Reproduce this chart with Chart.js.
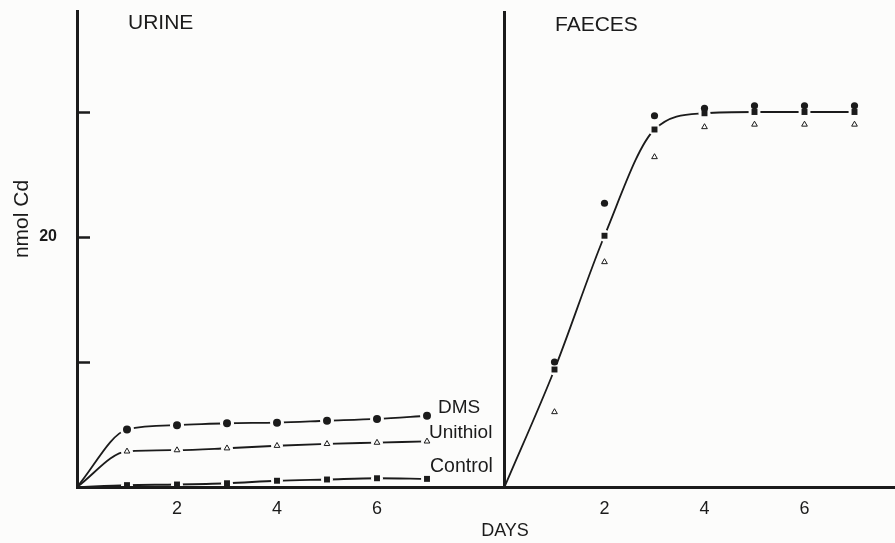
<!DOCTYPE html>
<html><head><meta charset="utf-8">
<script src="https://cdn.jsdelivr.net/npm/chart.js@4.4.1/dist/chart.umd.min.js"></script>
<style>html,body{margin:0;padding:0;background:#fcfcfb;}canvas{display:block}</style>
</head><body>
<canvas id="c" width="895" height="543"></canvas>
<script>
// ---- data ----
const days = [0, 1, 2, 3, 4, 5, 6, 7];
const urineDMS = [0, 4.6, 4.95, 5.1, 5.15, 5.3, 5.45, 5.7];
const urineUnithiol = [0, 2.85, 2.95, 3.1, 3.3, 3.45, 3.55, 3.65];
const urineControl = [0, 0.15, 0.2, 0.3, 0.5, 0.6, 0.7, 0.65];
const faecesDays = [1, 2, 3, 4, 5, 6, 7];
const faecesDMS = [10.0, 22.7, 29.7, 30.3, 30.5, 30.5, 30.5];
const faecesUnithiol = [6.0, 18.0, 26.4, 28.8, 29.0, 29.0, 29.0];
const faecesControl = [0, 9.4, 20.1, 28.6, 29.9, 30.0, 30.0, 30.0];
const dayTicks = [2, 4, 6];
const yTicks = [10, 20, 30];
const yLabelled = [20];
const panelOffset = 8.55;   // where the FAECES panel starts on the day axis
const xMax = 16.36;
const yMax = 38.08;

const ink = '#1b1b1b';
const bg = '#fcfcfb';
const FONT = '"Liberation Sans", Arial, Helvetica, sans-serif';

const pts = (xs, ys, off) => xs.map((d, i) => ({x: d + off, y: ys[i]}));
const noFirst = (n, r) => Array.from({length: n}, (_, i) => i === 0 ? 0 : r);

const lineDs = (data, haloR) => ({
  data, showLine: true, borderColor: ink, borderWidth: 1.8,
  cubicInterpolationMode: 'monotone',
  pointRadius: noFirst(data.length, haloR), pointStyle: 'circle',
  pointBackgroundColor: bg, pointBorderColor: bg, pointBorderWidth: 0,
  order: 3
});
const markDs = (data, style, r, filled) => ({
  data, showLine: false, pointStyle: style, pointRadius: r,
  pointBackgroundColor: filled ? ink : bg, pointBorderColor: ink,
  pointBorderWidth: filled ? 0 : 1, order: 1
});

const datasets = [
  lineDs(pts(days, urineDMS, 0), 7),
  lineDs(pts(days, urineUnithiol, 0), 6),
  lineDs(pts(days, urineControl, 0), 6),
  lineDs(pts(days, faecesControl, panelOffset), 6),
  markDs(pts(days.slice(1), urineDMS.slice(1), 0), 'circle', 4, true),
  markDs(pts(days.slice(1), urineUnithiol.slice(1), 0), 'triangle', 3.3, false),
  markDs(pts(days.slice(1), urineControl.slice(1), 0), 'rect', 4.2, true),
  markDs(pts(faecesDays, faecesControl.slice(1), panelOffset), 'rect', 4.2, true),
  markDs(pts(faecesDays, faecesDMS, panelOffset), 'circle', 3.6, true),
  markDs(pts(faecesDays, faecesUnithiol, panelOffset), 'triangle', 3.3, false),
  { data: [{x: panelOffset, y: 0}, {x: panelOffset, y: yMax}], showLine: true,
    borderColor: ink, borderWidth: 3, pointRadius: 0, order: 0 }
];

const annot = {
  id: 'annot',
  afterDraw(chart) {
    const {ctx, scales: {x, y}} = chart;
    ctx.save();
    ctx.strokeStyle = ink; ctx.lineWidth = 2.5;
    yTicks.forEach(v => {
      const py = Math.round(y.getPixelForValue(v)) + 0.5;
      ctx.beginPath(); ctx.moveTo(x.left, py); ctx.lineTo(x.left + 13, py); ctx.stroke();
    });
    ctx.fillStyle = ink;
    ctx.textBaseline = 'middle';
    ctx.textAlign = 'left';
    ctx.font = '21px ' + FONT;
    ctx.fillText('URINE', 128, 23);
    ctx.fillText('FAECES', 555, 25);
    ctx.font = '19px ' + FONT;
    ctx.fillText('DMS', 438, 408);
    ctx.fillText('Unithiol', 429, 433);
    ctx.font = '19.5px ' + FONT;
    ctx.fillText('Control', 430, 467);
    ctx.font = '18px ' + FONT;
    ctx.textAlign = 'center';
    ctx.fillText('DAYS', 505, 531);
    ctx.translate(22, 219);
    ctx.rotate(-Math.PI / 2);
    ctx.font = '21px ' + FONT;
    ctx.fillText('nmol Cd', 0, 0);
    ctx.restore();
  }
};

new Chart(document.getElementById('c'), {
  type: 'scatter',
  data: { datasets },
  options: {
    responsive: false, animation: false, devicePixelRatio: 1,
    layout: { autoPadding: false, padding: { top: 11, right: 0, left: 0, bottom: 0 } },
    plugins: { legend: { display: false }, tooltip: { enabled: false } },
    scales: {
      x: {
        type: 'linear', min: 0, max: xMax,
        afterFit: s => { s.height = 56; s.paddingLeft = 0; s.paddingRight = 0; },
        afterBuildTicks: s => {
          s.ticks = dayTicks.map(v => ({value: v})).concat(dayTicks.map(v => ({value: v + panelOffset})));
        },
        ticks: {
          color: ink, padding: 3, font: { family: FONT, size: 18 },
          callback: v => String(Math.round(v > panelOffset ? v - panelOffset : v))
        },
        grid: { display: false },
        border: { display: true, color: ink, width: 3, z: 1 }
      },
      y: {
        type: 'linear', min: 0, max: yMax,
        afterFit: s => { s.width = 77; s.paddingTop = 0; s.paddingBottom = 0; },
        afterBuildTicks: s => { s.ticks = yTicks.map(v => ({value: v})); },
        ticks: {
          color: ink, padding: 12, font: { family: FONT, size: 16, weight: 'bold' },
          callback: v => yLabelled.includes(v) ? String(v) : ''
        },
        grid: { display: false },
        border: { display: true, color: ink, width: 3, z: 1 }
      }
    }
  },
  plugins: [annot]
});
</script>
</body></html>
